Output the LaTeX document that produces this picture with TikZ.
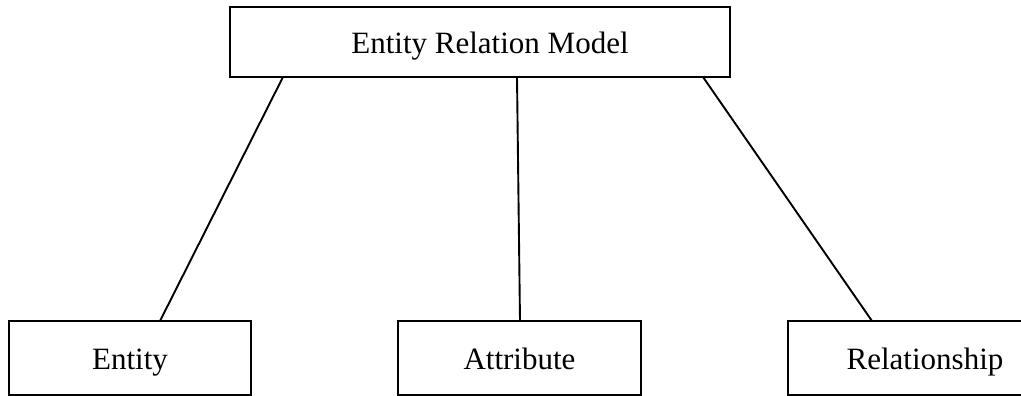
\documentclass[tikz,border=0pt]{standalone}
\usepackage{fontspec}
\setmainfont{Liberation Serif}
\begin{document}
\begin{tikzpicture}[x=1pt,y=1pt,
  box/.style={draw=black,line width=2.2pt,rectangle,inner sep=0pt,text height=28pt,text depth=4pt,font=\fontsize{31}{36}\selectfont},
  link/.style={draw=black,line width=1.9pt}]
\useasboundingbox (0,0) rectangle (1021,396);
\node[box,minimum width=500pt,minimum height=70pt] (erm) at (480,354) {\hspace*{20pt}Entity Relation Model};
\node[box,minimum width=242pt,minimum height=74pt] (ent) at (130,38) {Entity};
\node[box,minimum width=243pt,minimum height=74pt] (att) at (519.5,38) {Attribute};
\node[box,minimum width=274pt,minimum height=74pt] (rel) at (925,38) {Relationship};
\coordinate (a1) at (283,319);
\coordinate (b1) at (160,75);
\coordinate (a2) at (517,319);
\coordinate (b2) at (520,75);
\coordinate (a3) at (703,319);
\coordinate (b3) at (872,75);
\draw[link] (a1) -- (b1);
\draw[link] (a2) -- (b2);
\draw[link] (a3) -- (b3);
\end{tikzpicture}
\end{document}
